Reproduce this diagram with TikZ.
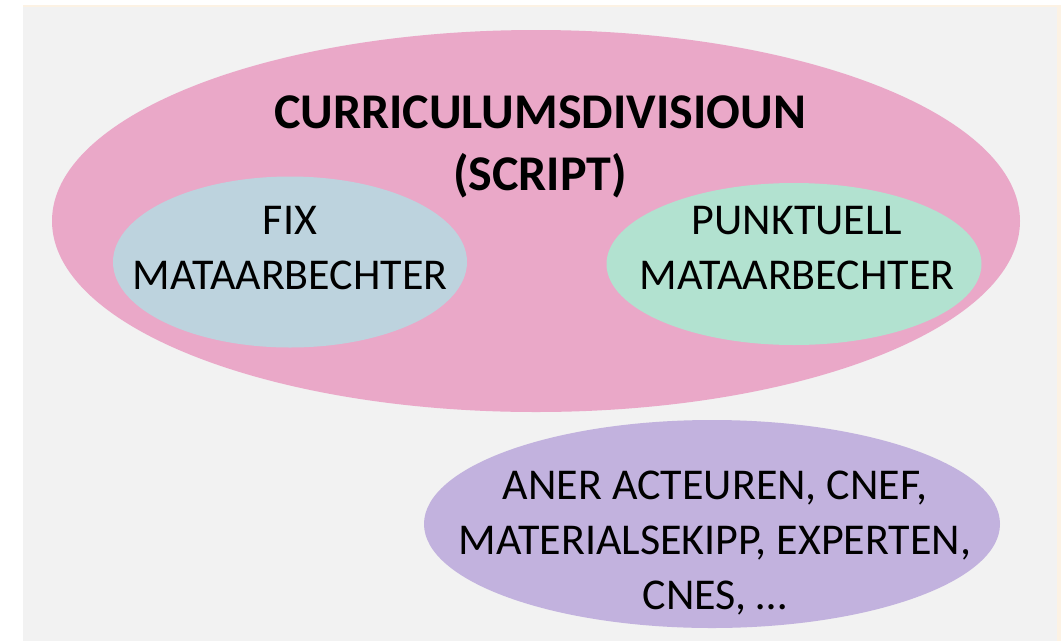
\documentclass[tikz,border=0pt]{standalone}
\usepackage{fontspec}
\setmainfont{Carlito}
\usetikzlibrary{shapes.geometric}

\definecolor{backgray}{RGB}{242,242,242}
\definecolor{creamline}{RGB}{252,242,228}
\definecolor{divpink}{RGB}{234,168,200}
\definecolor{fixblue}{RGB}{189,211,222}
\definecolor{punktgreen}{RGB}{178,226,208}
\definecolor{anerpurple}{RGB}{194,178,222}

\tikzset{
  blob/.style={ellipse, inner sep=0pt, draw=none},
  blobtext/.style={align=center, inner sep=0pt, font=\fontsize{44}{55}\selectfont},
}

\begin{document}
\begin{tikzpicture}[x=1pt,y=-1pt]
\useasboundingbox (0,0) rectangle (1061,641);
\fill[white] (0,0) rectangle (1061,641);
\fill[creamline] (23,5) rectangle (1061,641);
\fill[backgray] (23,7) rectangle (1057,641);
% ellipses
\node[blob, fill=divpink, minimum width=968pt, minimum height=382pt] (division) at (536,221) {};
\node[blob, fill=fixblue, minimum width=354pt, minimum height=171pt] (fix) at (290,262) {};
\node[blob, fill=punktgreen, minimum width=375pt, minimum height=162pt] (punktuell) at (794,264) {};
\node[blob, fill=anerpurple, minimum width=576pt, minimum height=208pt] (aner) at (712,524) {};
% texts
\node[align=center, inner sep=0pt, font=\fontsize{50}{62}\selectfont\bfseries] (divisiontxt) at (540,147) {CURRICULUMSDIVISIOUN\\(SCRIPT)};
\node[blobtext] (fixtxt) at (290,248) {FIX\\MATAARBECHTER};
\node[blobtext] (punktuelltxt) at (797,248) {PUNKTUELL\\MATAARBECHTER};
\node[blobtext] (anertxt) at (715,543) {ANER ACTEUREN, CNEF,\\MATERIALSEKIPP, EXPERTEN,\\CNES, \dots};
\end{tikzpicture}
\end{document}
